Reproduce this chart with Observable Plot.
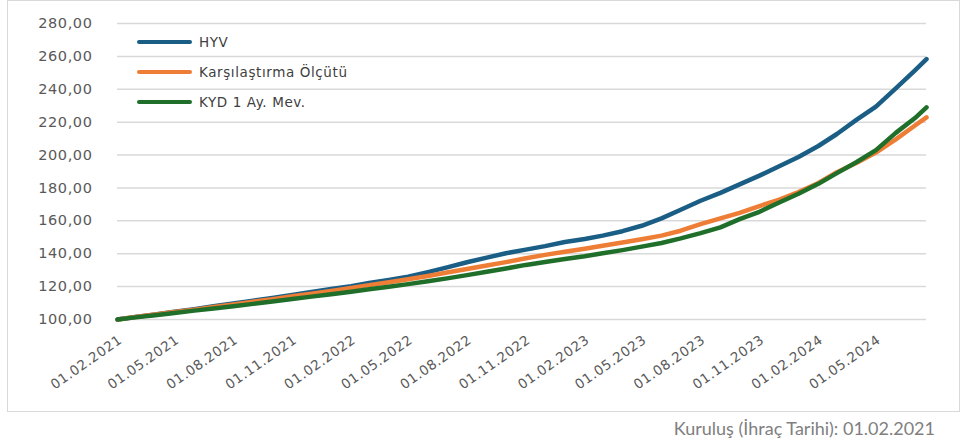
<!DOCTYPE html>
<html><head><meta charset="utf-8">
<script src="https://cdn.jsdelivr.net/npm/d3@7"></script>
<script src="https://cdn.jsdelivr.net/npm/@observablehq/plot@0.6"></script>
<style>
body{margin:0;background:#fff;}
#wrap{position:relative;width:968px;height:445px;overflow:hidden;}
#box{position:absolute;left:7px;top:0px;width:953px;height:412px;border:1.5px solid #d9d9d9;box-sizing:border-box;}
#chart{position:absolute;left:0;top:0;}
.leg{position:absolute;left:137px;height:20px;display:flex;align-items:center;font-family:"DejaVu Sans";font-size:13.5px;letter-spacing:0.6px;color:#404040;}
.leg span.sw{display:inline-block;width:55px;height:4px;border-radius:2px;margin-right:7px;}
#caption{position:absolute;right:33px;top:417px;font-family:Lato;font-size:18px;color:#7f7f7f;white-space:nowrap;}
</style></head><body>
<div id="wrap">
<div id="box"></div>
<div id="chart"></div>
<div id="legend"></div>
<div id="caption">Kuruluş (İhraç Tarihi): 01.02.2021</div>
</div>
<script>
const dates = ["2021-02-01","2021-03-01","2021-04-01","2021-05-01","2021-06-01","2021-07-01","2021-08-01","2021-09-01","2021-10-01","2021-11-01","2021-12-01",
"2022-01-01","2022-02-01","2022-03-01","2022-04-01","2022-05-01","2022-06-01","2022-07-01","2022-08-01","2022-09-01","2022-10-01","2022-11-01","2022-12-01",
"2023-01-01","2023-02-01","2023-03-01","2023-04-01","2023-05-01","2023-06-01","2023-07-01","2023-08-01","2023-09-01","2023-10-01","2023-11-01","2023-12-01",
"2024-01-01","2024-02-01","2024-03-01","2024-04-01","2024-05-01","2024-06-01","2024-07-01","2024-07-19"];
const hyv = [100.0,101.6,103.1,104.7,106.3,108.0,109.7,111.4,113.1,114.9,116.7,118.5,120.3,122.2,124.1,126.0,128.8,131.7,134.8,137.6,140.3,142.5,144.6,147.1,149.0,151.0,153.7,157.0,161.5,166.7,172.2,177.0,182.2,187.5,193.0,198.8,205.5,212.8,221.5,229.5,240.5,251.5,258.3];
const olcut = [100.0,101.5,103.0,104.5,106.0,107.6,109.2,110.8,112.4,114.1,115.7,117.4,119.2,120.9,122.7,124.5,126.5,128.6,130.7,132.8,134.9,137.2,139.3,141.2,143.0,144.8,146.8,148.8,151.0,154.0,158.0,161.5,164.8,169.0,172.8,177.5,183.0,189.5,195.3,201.5,209.5,218.0,222.9];
const kyd = [100.0,101.3,102.6,104.0,105.4,106.7,108.1,109.5,111.0,112.4,113.9,115.4,116.9,118.4,119.9,121.5,123.2,125.0,127.0,129.0,131.0,133.2,135.0,136.8,138.5,140.3,142.2,144.3,146.5,149.3,152.5,156.0,161.0,165.5,171.0,176.5,182.5,189.0,195.8,203.0,213.5,222.5,229.0];
const seriesNames = ["HYV","Karşılaştırma Ölçütü","KYD 1 Ay. Mev."];
const seriesColors = ["#1b5e85","#ee7d35","#1f6f2a"];
const yTicks = [100,120,140,160,180,200,220,240,260,280];
const xTicks = ["2021-02-01","2021-05-01","2021-08-01","2021-11-01","2022-02-01","2022-05-01","2022-08-01","2022-11-01","2023-02-01","2023-05-01","2023-08-01","2023-11-01","2024-02-01","2024-05-01"];

const seriesValues = [hyv, olcut, kyd];
const rows = seriesValues.map((vals, s) => dates.map((d, i) => ({date: new Date(d), value: vals[i], series: seriesNames[s]})));

const chart = Plot.plot({
  width: 968, height: 412,
  marginLeft: 117, marginRight: 42, marginTop: 23, marginBottom: 93,
  style: {fontFamily: "DejaVu Sans", fontSize: "14px", color: "#595959", background: "transparent", letterSpacing: "0.6px"},
  x: {type: "utc", domain: [new Date(dates[0]), new Date(dates[dates.length - 1])]},
  y: {domain: [100, 280]},
  color: {domain: seriesNames, range: seriesColors},
  marks: [
    Plot.ruleY(yTicks, {stroke: "#d9d9d9", strokeWidth: 1.5}),
    Plot.axisY({ticks: yTicks, tickSize: 0, tickPadding: 25, label: null, fontSize: 14.5, tickFormat: d => d.toFixed(2).replace(".", ",")}),
    Plot.axisX({ticks: xTicks.map(d => new Date(d)), tickSize: 0, tickPadding: 19, dx: 3, tickRotate: -35, label: null, fontSize: 13.5, tickFormat: d3.utcFormat("%d.%m.%Y")}),
    ...rows.map(r => Plot.line(r, {x: "date", y: "value", stroke: "series", strokeWidth: 4.5, strokeLinecap: "round", strokeLinejoin: "round"}))
  ]
});
document.getElementById("chart").appendChild(chart);

const legend = document.getElementById("legend");
seriesNames.forEach((n, i) => {
  const div = document.createElement("div");
  div.className = "leg";
  div.style.top = (32 + i * 30) + "px";
  div.innerHTML = `<span class="sw" style="background:${seriesColors[i]}"></span>${n}`;
  legend.appendChild(div);
});
</script>
</body></html>
